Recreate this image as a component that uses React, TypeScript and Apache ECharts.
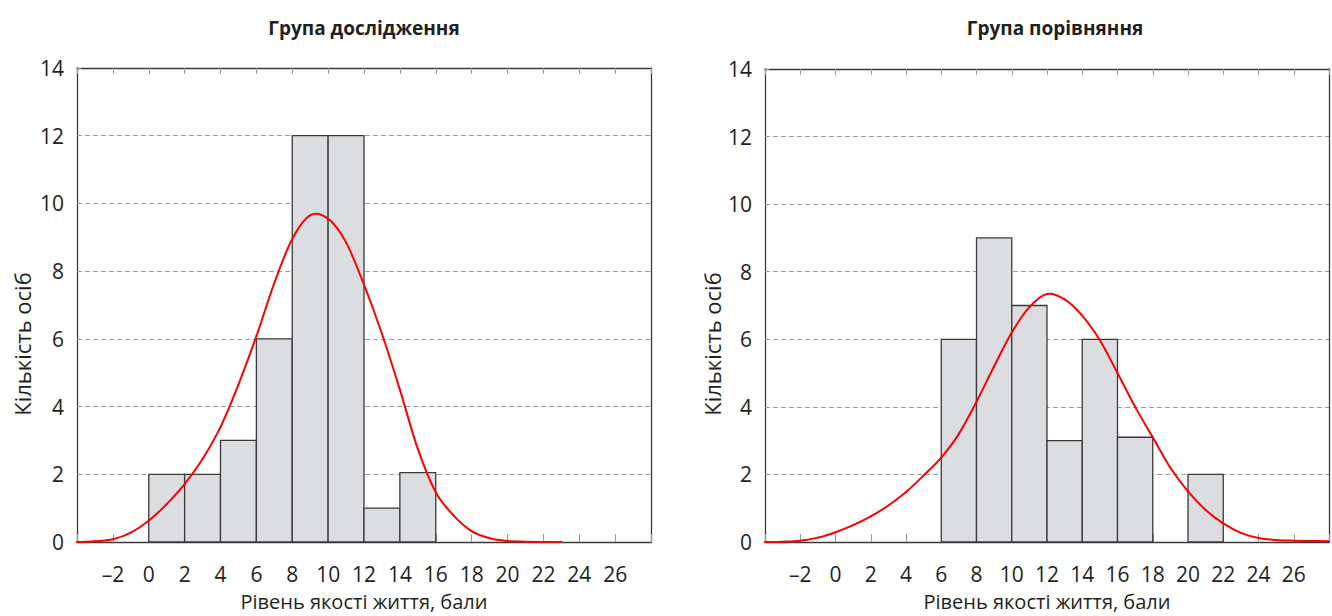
import { useEffect, useRef } from "react";
import * as echarts from "echarts";

// Axis ranges shared by both panels
const X_MIN = -4;
const X_MAX = 28;
const X_STEP = 2;
const Y_MIN = 0;
const Y_MAX = 14;
const Y_STEP = 2;
const BIN_WIDTH = 2;

const studyTitle = "Група дослідження";
const compareTitle = "Група порівняння";
const xAxisTitle = "Рівень якості життя, бали";
const yAxisTitle = "Кількість осіб";

// Histogram bins (left edges) and counts
const studyBinStarts = [0, 2, 4, 6, 8, 10, 12, 14];
const studyCounts = [2, 2, 3, 6, 12, 12, 1, 2.05];

const compareBinStarts = [6, 8, 10, 12, 14, 16, 20];
const compareCounts = [6, 9, 7, 3, 6, 3.1, 2];

// Fitted normal curves
const studyCurveX = [-4, -3, -2, -1, 0, 1, 2, 3, 4, 5, 6, 7, 8, 9, 10, 11, 12, 13, 14, 15, 16, 17, 18, 19, 20, 21, 22, 23];
const studyCurveY = [0, 0.02, 0.08, 0.28, 0.63, 1.12, 1.71, 2.45, 3.4, 4.65, 6.08, 7.65, 8.95, 9.65, 9.55, 8.85, 7.6, 6.15, 4.5, 2.75, 1.47, 0.78, 0.32, 0.11, 0.03, 0.01, 0, 0];

const compareCurveX = [-4, -3, -2, -1, 0, 1, 2, 3, 4, 5, 6, 7, 8, 9, 10, 11, 12, 13, 14, 15, 16, 17, 18, 19, 20, 21, 22, 23, 24, 25, 26, 27, 28];
const compareCurveY = [0, 0.01, 0.04, 0.13, 0.29, 0.5, 0.76, 1.08, 1.48, 1.97, 2.5, 3.2, 4.15, 5.2, 6.2, 6.95, 7.34, 7.18, 6.7, 5.97, 5.0, 4.0, 3.1, 2.2, 1.5, 0.95, 0.55, 0.27, 0.12, 0.06, 0.04, 0.03, 0.02];

const FONT = "Open Sans";
const TEXT_COLOR = "#231f20";
const AXIS_COLOR = "#3a3a3a";
const CURVE_COLOR = "#ff0000";

const xLabel = (v: number) => {
  if (v === X_MIN || v === X_MAX) return "";
  return v < 0 ? "\u2013" + Math.abs(v) : String(v);
};

const histRender = (params: any, api: any) => {
  const x0 = api.value(0);
  const x1 = api.value(1);
  const c = api.value(2);
  const p0 = api.coord([x0, c]);
  const p1 = api.coord([x1, 0]);
  return {
    type: "rect",
    shape: { x: p0[0], y: p0[1], width: p1[0] - p0[0], height: p1[1] - p0[1] },
    style: { fill: "#dcdde0", stroke: AXIS_COLOR, lineWidth: 1.3 },
  };
};

// Each data item draws the Catmull-Rom segment from its point to the next one
const curveRender = (xs: number[], ys: number[]) => (params: any, api: any) => {
  const i = params.dataIndex;
  const n = xs.length;
  if (i >= n - 1) return null;
  const pt = (j: number) => {
    const k = Math.max(0, Math.min(n - 1, j));
    return api.coord([xs[k], ys[k]]);
  };
  const p0 = pt(i - 1);
  const p1 = pt(i);
  const p2 = pt(i + 1);
  const p3 = pt(i + 2);
  return {
    type: "bezierCurve",
    shape: {
      x1: p1[0],
      y1: p1[1],
      cpx1: p1[0] + (p2[0] - p0[0]) / 6,
      cpy1: p1[1] + (p2[1] - p0[1]) / 6,
      cpx2: p2[0] - (p3[0] - p1[0]) / 6,
      cpy2: p2[1] - (p3[1] - p1[1]) / 6,
      x2: p2[0],
      y2: p2[1],
    },
    style: { stroke: CURVE_COLOR, lineWidth: 2, fill: null, lineCap: "round" },
  };
};

function buildAxes(gridIndex: number) {
  const line = { show: true, onZero: false, lineStyle: { color: AXIS_COLOR, width: 1.3 } };
  const bottomX = {
    type: "value",
    gridIndex,
    min: X_MIN,
    max: X_MAX,
    interval: X_STEP,
    position: "bottom",
    axisLine: line,
    axisTick: { show: true, inside: true, length: 8, lineStyle: { color: "#999" } },
    axisLabel: { formatter: xLabel, fontFamily: FONT, fontSize: 21, color: TEXT_COLOR, margin: 21 },
    splitLine: { show: false },
    name: xAxisTitle,
    nameLocation: "middle",
    nameGap: 49,
    nameTextStyle: { fontFamily: FONT, fontSize: 20, color: TEXT_COLOR },
  };
  const topX = {
    type: "value",
    gridIndex,
    min: X_MIN,
    max: X_MAX,
    interval: X_STEP,
    position: "top",
    axisLine: line,
    axisTick: { show: true, inside: true, length: 6, lineStyle: { color: "#999" } },
    axisLabel: { show: false },
    splitLine: { show: false },
  };
  const leftY = {
    type: "value",
    gridIndex,
    min: Y_MIN,
    max: Y_MAX,
    interval: Y_STEP,
    position: "left",
    axisLine: line,
    axisTick: { show: true, inside: true, length: 4, lineStyle: { color: "#999" } },
    axisLabel: { fontFamily: FONT, fontSize: 21, color: TEXT_COLOR, margin: 13 },
    splitLine: { show: true, lineStyle: { color: "#9a9a9a", type: [5, 3], width: 1 } },
  };
  const rightY = {
    type: "value",
    gridIndex,
    min: Y_MIN,
    max: Y_MAX,
    interval: Y_STEP,
    position: "right",
    axisLine: line,
    axisTick: { show: false },
    axisLabel: { show: false },
    splitLine: { show: false },
  };
  return { xs: [bottomX, topX], ys: [leftY, rightY] };
}

const curveSeries = (axisIndex: number, xs: number[], ys: number[]) => ({
  type: "custom",
  xAxisIndex: axisIndex,
  yAxisIndex: axisIndex,
  renderItem: curveRender(xs, ys),
  encode: { x: 0, y: 1 },
  data: xs.map((x, i) => [x, ys[i]]),
  z: 5,
});

const histSeries = (axisIndex: number, starts: number[], counts: number[]) => ({
  type: "custom",
  xAxisIndex: axisIndex,
  yAxisIndex: axisIndex,
  renderItem: histRender,
  encode: { x: [0, 1], y: 2 },
  data: starts.map((s, i) => [s, s + BIN_WIDTH, counts[i]]),
  z: 3,
});

const yName = (x: number) => ({
  type: "text",
  x,
  y: 344,
  rotation: Math.PI / 2,
  style: { text: yAxisTitle, align: "center", verticalAlign: "middle", fontFamily: FONT, fontSize: 22, fill: TEXT_COLOR },
});

export default function App() {
  const ref = useRef<HTMLDivElement>(null);

  useEffect(() => {
    if (!ref.current) return;
    const chart = echarts.init(ref.current, undefined, { renderer: "svg" });

    const a0 = buildAxes(0);
    const a1 = buildAxes(1);
    const titleStyle = { fontFamily: FONT, fontSize: 19, fontWeight: "bold", color: TEXT_COLOR };

    chart.setOption({
      animation: false,
      backgroundColor: "#ffffff",
      title: [
        { text: studyTitle, left: 359, top: 13, textAlign: "center", textStyle: titleStyle },
        { text: compareTitle, left: 1050, top: 13, textAlign: "center", textStyle: titleStyle },
      ],
      grid: [
        { left: 77, top: 68, width: 574, height: 476 },
        { left: 765, top: 69, width: 576, height: 476 },
      ],
      xAxis: [...a0.xs, ...a1.xs],
      yAxis: [...a0.ys, ...a1.ys],
      graphic: [yName(22), yName(712)],
      series: [
        histSeries(0, studyBinStarts, studyCounts),
        curveSeries(0, studyCurveX, studyCurveY),
        histSeries(2, compareBinStarts, compareCounts),
        curveSeries(2, compareCurveX, compareCurveY),
      ],
    });

    return () => chart.dispose();
  }, []);

  return (
    <div
      ref={ref}
      style={{ position: "fixed", left: 0, top: 0, width: 1332, height: 616, background: "#fff" }}
    />
  );
}
